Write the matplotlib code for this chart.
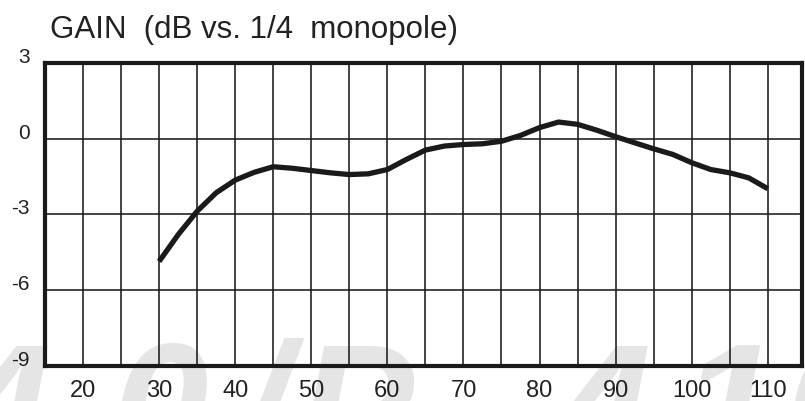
import matplotlib
matplotlib.use("Agg")
import matplotlib.pyplot as plt

plt.rcParams["font.family"] = ["Liberation Sans", "DejaVu Sans"]

# Data (frequency in MHz, gain in dB vs 1/4 monopole)
freq = [30, 32.5, 35, 37.5, 40, 42.5, 45, 47.5, 50, 52.5, 55, 57.5, 60,
        62.5, 65, 67.5, 70, 72.5, 75, 77.5, 80, 82.5, 85, 87.5, 90, 92.5,
        95, 97.5, 100, 102.5, 105, 107.5, 110]
gain = [-4.86, -3.80, -2.87, -2.14, -1.64, -1.33, -1.11, -1.17, -1.26,
        -1.35, -1.42, -1.39, -1.22, -0.82, -0.45, -0.29, -0.23, -0.20,
        -0.10, 0.13, 0.44, 0.66, 0.57, 0.34, 0.08, -0.16, -0.40, -0.62,
        -0.95, -1.22, -1.35, -1.55, -1.98]

x_ticks = [20, 30, 40, 50, 60, 70, 80, 90, 100, 110]
y_ticks = [3, 0, -3, -6, -9]
title = "GAIN  (dB vs. 1/4  monopole)"
watermark_chars = ["4", "0", "/", "P", "4", "1", "0"]

fig = plt.figure(figsize=(8.05, 4.01), dpi=100)
fig.patch.set_facecolor("white")

# faint watermark behind everything, glyphs spread along the bottom edge
wm_left_px = [-45, 112, 240, 298, 555, 680, 785]
for ch, px in zip(watermark_chars, wm_left_px):
    fig.text(px / 805, -0.16, ch, fontsize=125, fontweight="bold",
             fontstyle="italic", color="#e5e5e5", va="baseline", zorder=-1)

ax = fig.add_axes([0.0559, 0.0873, 0.9404, 0.7557])
ax.set_facecolor("none")

ax.set_xlim(15, 114.5)
ax.set_ylim(-9, 3)

# grid every 5 units in x, every 3 dB in y
for xv in range(20, 115, 5):
    ax.axvline(xv, color="#1a1a1a", lw=1.15, zorder=1)
for yv in [0, -3, -6]:
    ax.axhline(yv, color="#1a1a1a", lw=1.15, zorder=1)

ax.plot(freq, gain, color="#1a1a1a", lw=3.8, solid_capstyle="butt",
        solid_joinstyle="round", zorder=3)

for s in ax.spines.values():
    s.set_linewidth(3.0)
    s.set_color("#1a1a1a")
    s.set_zorder(4)

ax.set_xticks(x_ticks)
ax.set_xticklabels([str(v) for v in x_ticks], fontsize=17, color="#222222",
                   family=["Liberation Sans Narrow", "Liberation Sans"])
ax.set_yticks(y_ticks)
ax.set_yticklabels([str(v) for v in y_ticks], fontsize=15, color="#222222",
                   va="baseline")
ax.tick_params(axis="both", length=0)
ax.tick_params(axis="x", pad=10)
ax.tick_params(axis="y", pad=11)

fig.text(0.062, 0.905, title, fontsize=22.5, color="#222222", va="baseline")

fig.savefig("out.png", dpi=100)
